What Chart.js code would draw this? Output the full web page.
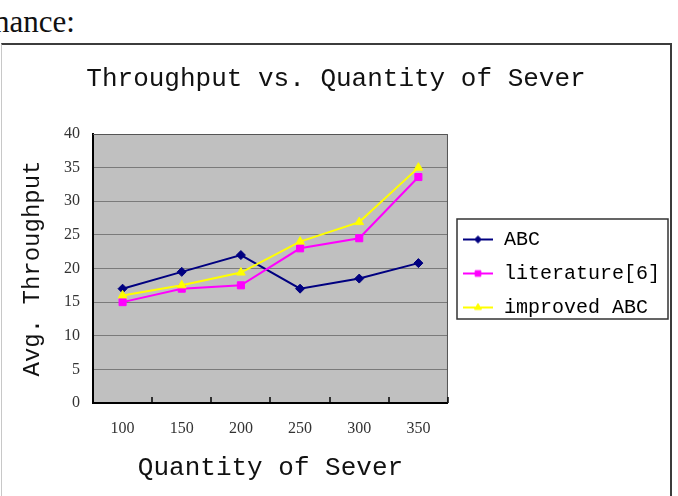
<!DOCTYPE html>
<html>
<head>
<meta charset="utf-8">
<script src="https://cdn.jsdelivr.net/npm/chart.js@4.4.0/dist/chart.umd.min.js"></script>
<style>
  html, body { margin: 0; padding: 0; background: #fff; width: 678px; height: 496px; overflow: hidden; }
  .lead { position: absolute; left: -6px; top: 6px; font: 31px "Liberation Serif", serif; line-height: 32px; color: #111; white-space: nowrap; }
  .frame { position: absolute; left: 1px; top: 43px; width: 668px; height: 470px;
           border-top: 2px solid #3c3c3c; border-left: 1px solid #c8c8c8; border-right: 2px solid #3c3c3c; }
  canvas { display: block; }
</style>
</head>
<body>
<div class="lead">nance:</div>
<div class="frame"><canvas id="chart" width="668" height="451"></canvas></div>
<script>
// data
const categories = ['100', '150', '200', '250', '300', '350'];
const abcValues = [17, 19.5, 22, 17, 18.5, 20.8];
const literatureValues = [15, 17, 17.5, 23, 24.5, 33.6];
const improvedValues = [16, 17.5, 19.4, 24, 26.9, 35];
const seriesNames = ['ABC', 'literature[6]', 'improved ABC'];
const yMin = 0, yMax = 40, yStep = 5;

const MONO = '"Liberation Mono", monospace';
const SERIF = '"Liberation Serif", serif';

const seriesColors = ['#000080', '#ff00ff', '#ffff00'];
const seriesMarkers = [
  { pointStyle: 'rectRot', radius: 4.5 },
  { pointStyle: 'rect', radius: 5 },
  { pointStyle: 'triangle', radius: 5 }
];

// little line + marker pictures for the legend
const legendIcons = seriesColors.map((color, i) => {
  const c = document.createElement('canvas');
  c.width = 30;
  c.height = 12;
  const g = c.getContext('2d');
  g.strokeStyle = color;
  g.fillStyle = color;
  g.lineWidth = 2;
  g.beginPath();
  g.moveTo(0, 6);
  g.lineTo(30, 6);
  g.stroke();
  g.lineWidth = 1;
  Chart.helpers.drawPoint(g, { pointStyle: seriesMarkers[i].pointStyle, radius: seriesMarkers[i].radius - 1, borderWidth: 1 }, 15, 6);
  return c;
});

const plotFrame = {
  id: 'plotFrame',
  beforeDraw(chart) {
    const { ctx, chartArea: a } = chart;
    ctx.save();
    ctx.fillStyle = '#c0c0c0';
    ctx.fillRect(a.left, a.top, a.right - a.left, a.bottom - a.top);
    ctx.restore();
  },
  beforeDatasetsDraw(chart) {
    const { ctx, chartArea: a, scales } = chart;
    ctx.save();
    ctx.strokeStyle = '#555';
    ctx.lineWidth = 1;
    ctx.beginPath();
    ctx.moveTo(a.left, a.top + 0.5);
    ctx.lineTo(a.right - 0.5, a.top + 0.5);
    ctx.lineTo(a.right - 0.5, a.bottom);
    ctx.stroke();
    // short tick marks pointing into the plot
    ctx.strokeStyle = '#000';
    ctx.lineWidth = 1.5;
    for (let i = 0; i <= categories.length; i++) {
      const px = Math.round(scales.x.getPixelForValue(i - 0.5));
      ctx.beginPath();
      ctx.moveTo(px, a.bottom);
      ctx.lineTo(px, a.bottom - 6);
      ctx.stroke();
    }
    ctx.restore();
  }
};

const legendBox = {
  id: 'legendBox',
  afterDraw(chart) {
    const boxes = chart.legend.legendHitBoxes;
    if (!boxes || !boxes.length) return;
    const first = boxes[0], last = boxes[boxes.length - 1];
    const left = Math.min(...boxes.map(b => b.left)) - 5;
    const right = Math.max(...boxes.map(b => b.left + b.width)) + 8;
    const top = first.top - 10.5;
    const bottom = last.top + last.height + 1.5;
    const ctx = chart.ctx;
    ctx.save();
    ctx.strokeStyle = '#333';
    ctx.lineWidth = 1.5;
    ctx.strokeRect(Math.round(left), Math.round(top), Math.round(right - left), Math.round(bottom - top));
    ctx.restore();
  }
};

const seriesValues = [abcValues, literatureValues, improvedValues];

const chart = new Chart(document.getElementById('chart'), {
  type: 'line',
  data: {
    labels: categories,
    datasets: seriesValues.map((values, i) => ({
      label: seriesNames[i],
      data: values,
      borderColor: seriesColors[i],
      backgroundColor: seriesColors[i],
      borderWidth: 2,
      tension: 0,
      pointStyle: seriesMarkers[i].pointStyle,
      pointRadius: seriesMarkers[i].radius,
      pointBorderWidth: 1,
      pointBackgroundColor: seriesColors[i],
      pointBorderColor: seriesColors[i],
      order: seriesValues.length - i
    }))
  },
  options: {
    responsive: false,
    animation: false,
    devicePixelRatio: 1,
    layout: { padding: 0 },
    plugins: {
      title: {
        display: true,
        text: 'Throughput vs. Quantity of Sever',
        color: '#111',
        font: { family: MONO, size: 26, weight: 'normal', lineHeight: 1 },
        padding: { top: 21.5, bottom: 41.5 }
      },
      legend: {
        position: 'right',
        fullSize: false,
        align: 'center',
        maxWidth: 240,
        title: { display: true, text: ' ', font: { size: 10, lineHeight: 1 }, padding: 0 },
        labels: {
          font: { family: MONO, size: 20 },
          color: '#000',
          padding: 14,
          usePointStyle: true,
          pointStyleWidth: 32,
          boxHeight: 20,
          sort: (a, b) => a.datasetIndex - b.datasetIndex,
          generateLabels(chart) {
            const items = Chart.defaults.plugins.legend.labels.generateLabels(chart);
            items.forEach(it => { it.pointStyle = legendIcons[it.datasetIndex]; });
            return items;
          }
        }
      },
      tooltip: { enabled: false }
    },
    scales: {
      x: {
        offset: true,
        grid: { display: true, drawOnChartArea: false, drawTicks: false, offset: true },
        border: { display: true, color: '#000', width: 2 },
        ticks: { color: '#333', padding: 18, font: { family: SERIF, size: 16, lineHeight: 1 } },
        title: {
          display: true,
          text: 'Quantity of Sever',
          color: '#111',
          font: { family: MONO, size: 26, lineHeight: 1 },
          padding: { top: 0, bottom: 15 }
        }
      },
      y: {
        min: yMin,
        max: yMax,
        grid: { color: '#7a7a7a', lineWidth: 1, drawTicks: false },
        border: { display: true, color: '#000', width: 2 },
        ticks: { stepSize: yStep, color: '#333', padding: 13, font: { family: SERIF, size: 16, lineHeight: 1 } },
        title: {
          display: true,
          text: 'Avg. Throughput',
          color: '#111',
          font: { family: MONO, size: 24, lineHeight: 1 },
          padding: { top: 18.5, bottom: 6.5 }
        }
      }
    }
  },
  plugins: [plotFrame, legendBox]
});
</script>
</body>
</html>
